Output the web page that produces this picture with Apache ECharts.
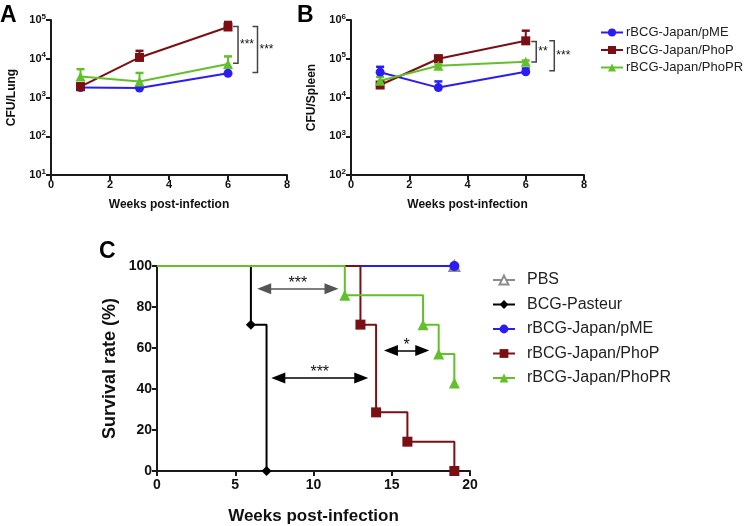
<!DOCTYPE html>
<html><head><meta charset="utf-8">
<script src="https://cdn.jsdelivr.net/npm/echarts@6/dist/echarts.min.js"></script>
<style>html,body{margin:0;padding:0;background:#fff}#c{width:744px;height:526px}</style>
</head><body><div id="c"></div>
<script>
// ---------- data ----------
const weeksAB = [1, 3, 6];
const lungPME = [1800, 1750, 4200];
const lungPMEErr = [1900, 1850, 5800];
const lungPhoP = [1900, 10800, 66000];
const lungPhoPErr = [2300, 16000, 89000];
const lungPhoPR = [3500, 2600, 7300];
const lungPhoPRErr = [5400, 4300, 11500];
const spleenPME = [45000, 18000, 46000];
const spleenPMEErr = [62000, 26000, 56000];
const spleenPhoP = [21000, 100000, 290000];
const spleenPhoPErr = [24000, 120000, 530000];
const spleenPhoPR = [27000, 66000, 84000];
const spleenPhoPRErr = [34000, 70000, 90000];
// brackets: [x, yTop, yBottom]
const bracketsA = [[6.34, 68000, 7600], [7.0, 68000, 4400]];
const bracketsALabels = ['***', '***'];
const bracketsB = [[6.36, 280000, 83000], [6.98, 290000, 49000]];
const bracketsBLabels = ['**', '***'];

const pbsWeeks = [0, 19], pbsSurv = [100, 100];
const bcgWeeks = [0, 6, 7], bcgSurv = [100, 71.4, 0];
const pmeWeeks = [0, 19], pmeSurv = [100, 100];
const phopWeeks = [0, 13, 14, 16, 19], phopSurv = [100, 71.4, 28.6, 14.3, 0];
const phoprWeeks = [0, 12, 17, 18, 19], phoprSurv = [100, 85.7, 71.4, 57.1, 42.9];
// arrows (arrowhead centres): [fromWeek, toWeek, survival%]
const arrowsC = [[6.85, 11.15, 88.9], [7.75, 13.05, 45.4], [14.95, 16.95, 58.8]];
const arrowsCLabels = ['***', '***', '*'];

const N_PME = 'rBCG-Japan/pME', N_PHOP = 'rBCG-Japan/PhoP', N_PHOPR = 'rBCG-Japan/PhoPR';
const BLUE = '#2b1cf5', RED = '#7a1014', GREEN = '#62c12a', GREY = '#8c8c8c';
const FONT = 'Liberation Sans, Arial, sans-serif';

const chart = echarts.init(document.getElementById('c'));

function zip(xs, ys) { return xs.map((x, i) => [x, ys[i]]); }
function errData(xs, ys, tops) { return xs.map((x, i) => [x, ys[i], tops[i]]); }

function errSeries(xi, yi, xs, ys, tops, color) {
  return {
    type: 'custom', xAxisIndex: xi, yAxisIndex: yi, z: 1,
    itemStyle: { color: color },
    encode: { x: 0, y: [1, 2] },
    data: errData(xs, ys, tops),
    renderItem: function (params, api) {
      const x = api.value(0), lo = api.value(1), hi = api.value(2);
      const p1 = api.coord([x, lo]), p2 = api.coord([x, hi]);
      const w = 4;
      return { type: 'group', children: [
        { type: 'line', shape: { x1: p1[0], y1: p1[1], x2: p2[0], y2: p2[1] }, style: { stroke: color, lineWidth: 2 } },
        { type: 'line', shape: { x1: p2[0] - w, y1: p2[1], x2: p2[0] + w, y2: p2[1] }, style: { stroke: color, lineWidth: 2.5 } }
      ] };
    }
  };
}

function bracketSeries(xi, yi, data, labels) {
  return {
    type: 'custom', xAxisIndex: xi, yAxisIndex: yi, z: 1,
    encode: { x: 0, y: [1, 2] },
    data: data,
    renderItem: function (params, api) {
      const x = api.value(0);
      const a = api.coord([x, api.value(1)]), b = api.coord([x, api.value(2)]);
      const t = 5;
      return { type: 'group', children: [
        { type: 'polyline', shape: { points: [[a[0] - t, a[1]], [a[0], a[1]], [b[0], b[1]], [b[0] - t, b[1]]] },
          style: { stroke: '#444', lineWidth: 1.5, fill: null } },
        { type: 'text', x: a[0] + 2, y: (a[1] + b[1]) / 2,
          style: { text: labels[params.dataIndex], fontSize: 12, fontFamily: FONT, fill: '#111', verticalAlign: 'middle', align: 'left' } }
      ] };
    }
  };
}

function lineSeries(name, xi, yi, xs, ys, color, symbol, size) {
  return {
    name: name, type: 'line', xAxisIndex: xi, yAxisIndex: yi, z: 3,
    data: zip(xs, ys), symbol: symbol, symbolSize: size, showSymbol: true,
    lineStyle: { color: color, width: 2 }, itemStyle: { color: color }
  };
}

function survSeries(name, xs, ys, color, symbol, size, extra) {
  const s = {
    name: name, type: 'line', xAxisIndex: 2, yAxisIndex: 2, step: 'end',
    symbol: symbol, symbolSize: size,
    data: xs.map((x, i) => (i === 0 ? { value: [x, ys[i]], symbol: 'none' } : { value: [x, ys[i]] })),
    lineStyle: { color: color, width: 2 }, itemStyle: { color: color }
  };
  return Object.assign(s, extra || {});
}

const logLabel = {
  fontFamily: FONT, fontWeight: 'bold', fontSize: 11, color: '#111', margin: 5,
  formatter: function (v) { return '10{s|' + Math.round(Math.log10(v)) + '}'; },
  rich: { s: { fontSize: 8, fontWeight: 'bold', fontFamily: FONT, color: '#111', padding: [0, 0, 7, 0] } }
};
const axisLine = { lineStyle: { color: '#1a1a1a', width: 2 } };
const axisTick = { length: 5, lineStyle: { color: '#1a1a1a', width: 2 } };
const smallName = { fontFamily: FONT, fontWeight: 'bold', fontSize: 12, color: '#111' };
const letterStyle = { fontSize: 23, fontWeight: 'bold', color: '#000', fontFamily: FONT };

function xAB(gi) {
  return { type: 'value', gridIndex: gi, min: 0, max: 8, interval: 2,
    name: 'Weeks post-infection', nameLocation: 'middle', nameGap: 24, nameTextStyle: smallName,
    axisLine: axisLine, axisTick: axisTick, splitLine: { show: false },
    axisLabel: { fontFamily: FONT, fontWeight: 'bold', fontSize: 11, color: '#111', margin: 4 } };
}
function yAB(gi, min, max, name) {
  return { type: 'log', logBase: 10, gridIndex: gi, min: min, max: max,
    name: name, nameLocation: 'middle', nameGap: 33, nameTextStyle: smallName,
    axisLine: Object.assign({ show: true }, axisLine), axisTick: axisTick, minorTick: { show: false },
    splitLine: { show: false }, axisLabel: logLabel };
}

const option = {
  animation: false,
  textStyle: { fontFamily: FONT },
  title: [
    { text: 'A', left: 0, top: 4, padding: 0, textStyle: letterStyle },
    { text: 'B', left: 297, top: 4, padding: 0, textStyle: letterStyle },
    { text: 'C', left: 99, top: 240, padding: 0, textStyle: letterStyle }
  ],
  grid: [
    { left: 51, top: 20, width: 236, height: 155 },
    { left: 351, top: 20, width: 233, height: 155 },
    { left: 157, top: 266, width: 313, height: 209 }
  ],
  legend: [
    { orient: 'vertical', left: 600, top: 26, padding: 0, itemWidth: 22, itemHeight: 10, itemGap: 4.5,
      data: [N_PME, N_PHOP, N_PHOPR],
      textStyle: { fontFamily: FONT, fontSize: 13, color: '#222', padding: [0, 0, 0, -2] } },
    { orient: 'vertical', left: 492, top: 272, padding: 0, itemWidth: 22, itemHeight: 11, itemGap: 8.5,
      data: ['PBS', 'BCG-Pasteur', N_PME, N_PHOP, N_PHOPR],
      textStyle: { fontFamily: FONT, fontSize: 16, color: '#222', padding: [0, 0, 0, 7] } }
  ],
  xAxis: [
    xAB(0), xAB(1),
    { type: 'value', gridIndex: 2, min: 0, max: 20, interval: 5,
      name: 'Weeks post-infection', nameLocation: 'middle', nameGap: 37,
      nameTextStyle: { fontFamily: FONT, fontWeight: 'bold', fontSize: 17, color: '#111' },
      axisLine: axisLine, axisTick: axisTick, splitLine: { show: false },
      axisLabel: { fontFamily: FONT, fontWeight: 'bold', fontSize: 14, color: '#111', margin: 7 } }
  ],
  yAxis: [
    yAB(0, 10, 100000, 'CFU/Lung'),
    yAB(1, 100, 1000000, 'CFU/Spleen'),
    { type: 'value', gridIndex: 2, min: 0, max: 100, interval: 20,
      name: 'Survival rate (%)', nameLocation: 'middle', nameGap: 38,
      nameTextStyle: { fontFamily: FONT, fontWeight: 'bold', fontSize: 18, color: '#111' },
      axisLine: Object.assign({ show: true }, axisLine), axisTick: axisTick, splitLine: { show: false },
      axisLabel: { fontFamily: FONT, fontWeight: 'bold', fontSize: 14, color: '#111', margin: 5 } }
  ],
  series: [
    errSeries(0, 0, weeksAB, lungPME, lungPMEErr, BLUE),
    errSeries(0, 0, weeksAB, lungPhoP, lungPhoPErr, RED),
    errSeries(0, 0, weeksAB, lungPhoPR, lungPhoPRErr, GREEN),
    lineSeries(N_PME, 0, 0, weeksAB, lungPME, BLUE, 'circle', 9),
    lineSeries(N_PHOP, 0, 0, weeksAB, lungPhoP, RED, 'rect', 9),
    lineSeries(N_PHOPR, 0, 0, weeksAB, lungPhoPR, GREEN, 'triangle', 10),
    bracketSeries(0, 0, bracketsA, bracketsALabels),

    errSeries(1, 1, weeksAB, spleenPME, spleenPMEErr, BLUE),
    errSeries(1, 1, weeksAB, spleenPhoP, spleenPhoPErr, RED),
    errSeries(1, 1, weeksAB, spleenPhoPR, spleenPhoPRErr, GREEN),
    lineSeries(N_PME, 1, 1, weeksAB, spleenPME, BLUE, 'circle', 9),
    lineSeries(N_PHOP, 1, 1, weeksAB, spleenPhoP, RED, 'rect', 9),
    lineSeries(N_PHOPR, 1, 1, weeksAB, spleenPhoPR, GREEN, 'triangle', 10),
    bracketSeries(1, 1, bracketsB, bracketsBLabels),

    survSeries('PBS', pbsWeeks, pbsSurv, GREY, 'emptyTriangle', 10),
    survSeries(N_PME, pmeWeeks, pmeSurv, BLUE, 'circle', 10),
    survSeries('BCG-Pasteur', bcgWeeks, bcgSurv, '#000', 'diamond', 10, {
      markLine: {
        silent: true, symbol: ['triangle', 'triangle'], symbolSize: [11, 14],
        lineStyle: { color: '#000', width: 1.5, type: 'solid' },
        label: { show: true, position: 'insideMiddleTop', distance: -3, fontFamily: FONT, fontSize: 16, color: '#111' },
        data: arrowsC.map((a, i) => [
          { coord: [a[0], a[2]], label: { formatter: arrowsCLabels[i] }, lineStyle: i === 0 ? { color: '#555' } : {} },
          { coord: [a[1], a[2]] }
        ])
      }
    }),
    survSeries(N_PHOP, phopWeeks, phopSurv, RED, 'rect', 10),
    survSeries(N_PHOPR, phoprWeeks, phoprSurv, GREEN, 'triangle', 11)
  ]
};
chart.setOption(option);
</script></body></html>
